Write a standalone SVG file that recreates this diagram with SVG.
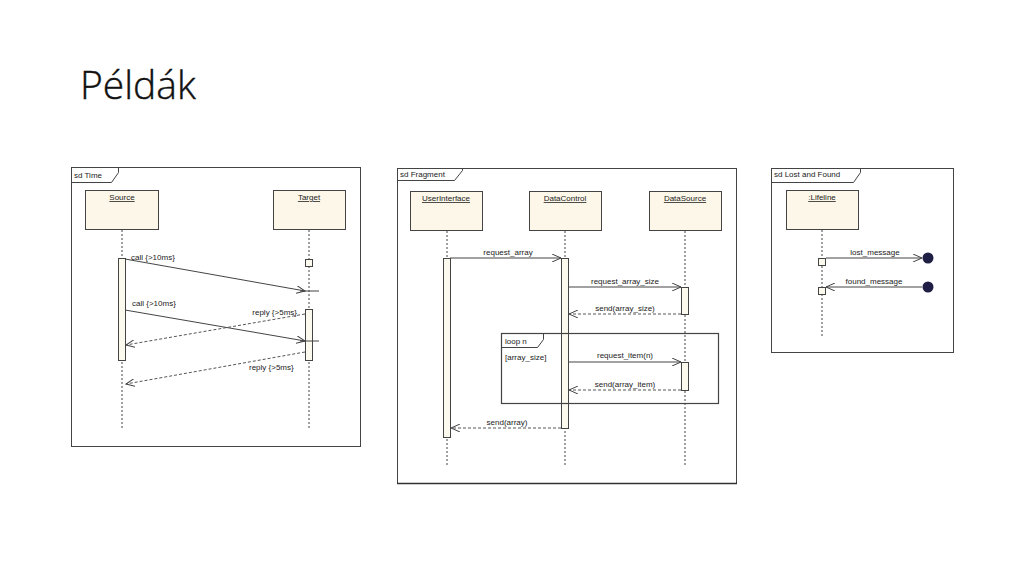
<svg xmlns="http://www.w3.org/2000/svg" width="1024" height="576" viewBox="0 0 1024 576">
<style>
.frame{fill:#fff;stroke:#444;stroke-width:1}
.tab{fill:none;stroke:#444;stroke-width:1}
.box{fill:#fcf7e9;stroke:#444;stroke-width:1}
.act{fill:#fcf9ee;stroke:#444;stroke-width:1}
.life{stroke:#444;stroke-width:1;stroke-dasharray:2,2;fill:none}
.msg{stroke:#444;stroke-width:1;fill:none}
.ret{stroke:#555;stroke-width:1;stroke-dasharray:3,2;fill:none}
.t{font-family:"Liberation Sans",Arial,sans-serif;font-size:8px;fill:#222}
.u{text-decoration:underline}
.title{font-family:"Open Sans","Noto Sans",sans-serif;font-weight:300;font-size:39px;fill:#111}
</style>
<defs>
<marker id="open" viewBox="0 0 10 8" refX="9" refY="4" markerWidth="10" markerHeight="8" markerUnits="userSpaceOnUse" orient="auto">
<path d="M0,0 L9,4 L0,8" fill="none" stroke="#444" stroke-width="1" stroke-dasharray="none"/>
</marker>
</defs>
<rect width="1024" height="576" fill="#fff"/>
<text class="title" x="80" y="99" stroke="#111" stroke-width="0.4">Példák</text>

<!-- Panel 1: sd Time -->
<g id="frame-time">
<rect class="frame" x="71.5" y="167.5" width="289" height="279"/>
<path class="tab" d="M71.5,182.5 H111.5 L118.5,172.5 V167.5"/>
<text class="t" x="74" y="178">sd Time</text>
</g>
<g id="source">
<rect class="box" x="85.5" y="190.5" width="73" height="39"/>
<text class="t u" x="122" y="200" text-anchor="middle">Source</text>
<line class="life" x1="122" y1="230" x2="122" y2="430"/>
<rect class="act" x="118.5" y="258.5" width="7" height="102"/>
</g>
<g id="target">
<rect class="box" x="273.5" y="190.5" width="72" height="39"/>
<text class="t u" x="309" y="200" text-anchor="middle">Target</text>
<line class="life" x1="309" y1="230" x2="309" y2="430"/>
<rect class="act" x="305.5" y="259.5" width="7" height="7"/>
<rect class="act" x="305.5" y="309.5" width="7" height="51"/>
</g>
<g id="connectors-time">
<line class="msg" x1="125" y1="259" x2="305" y2="291" marker-end="url(#open)"/>
<line class="msg" x1="300" y1="291" x2="319" y2="291"/>
<text class="t" x="131" y="260">call {&gt;10ms}</text>
<line class="msg" x1="125" y1="310" x2="305" y2="341" marker-end="url(#open)"/>
<line class="msg" x1="300" y1="341" x2="319" y2="341"/>
<text class="t" x="132" y="306">call {&gt;10ms}</text>
<line class="ret" x1="305" y1="314" x2="126" y2="345" marker-end="url(#open)"/>
<text class="t" x="297" y="315" text-anchor="end">reply {&gt;5ms}</text>
<line class="ret" x1="305" y1="352" x2="126" y2="384" marker-end="url(#open)"/>
<text class="t" x="249" y="370">reply {&gt;5ms}</text>
</g>

<!-- Panel 2: sd Fragment -->
<g id="frame-fragment">
<rect class="frame" x="397.5" y="168.5" width="339" height="315"/>
<line x1="397" y1="483.5" x2="737" y2="483.5" stroke="#333" stroke-width="1.5"/>
<path class="tab" d="M397.5,180.5 H454.5 L462.5,170.5 V168.5"/>
<text class="t" x="400" y="177">sd Fragment</text>
</g>
<g id="userinterface">
<rect class="box" x="410.5" y="191.5" width="72" height="39"/>
<text class="t u" x="446" y="201" text-anchor="middle">UserInterface</text>
<line class="life" x1="447" y1="231" x2="447" y2="467"/>
<rect class="act" x="443.5" y="258.5" width="7" height="179"/>
</g>
<g id="datacontrol">
<rect class="box" x="529.5" y="191.5" width="72" height="39"/>
<text class="t u" x="565" y="201" text-anchor="middle">DataControl</text>
<line class="life" x1="565" y1="231" x2="565" y2="467"/>
<rect class="act" x="561.5" y="258.5" width="7" height="170"/>
</g>
<g id="datasource">
<rect class="box" x="649.5" y="191.5" width="72" height="39"/>
<text class="t u" x="685" y="201" text-anchor="middle">DataSource</text>
<line class="life" x1="685" y1="231" x2="685" y2="467"/>
<rect class="act" x="681.5" y="287.5" width="7" height="27"/>
<rect class="act" x="681.5" y="362.5" width="7" height="28"/>
</g>
<g id="loop">
<rect x="501.5" y="333.5" width="217" height="70" fill="none" stroke="#444" stroke-width="1.2"/>
<path class="tab" d="M501.5,347.5 H537.5 L543.5,339.5 V333.5"/>
<text class="t" x="505" y="344">loop n</text>
<text class="t" x="505" y="360">[array_size]</text>
</g>
<g id="connectors-fragment">
<line class="msg" x1="450" y1="258" x2="561" y2="258" marker-end="url(#open)"/>
<text class="t" x="508" y="255" text-anchor="middle">request_array</text>
<line class="msg" x1="568" y1="287" x2="681" y2="287" marker-end="url(#open)"/>
<text class="t" x="625" y="284" text-anchor="middle">request_array_size</text>
<line class="ret" x1="681" y1="314" x2="569" y2="314" marker-end="url(#open)"/>
<text class="t" x="625" y="311" text-anchor="middle">send(array_size)</text>
<line class="msg" x1="568" y1="362" x2="681" y2="362" marker-end="url(#open)"/>
<text class="t" x="625" y="358" text-anchor="middle">request_item(n)</text>
<line class="ret" x1="681" y1="390" x2="569" y2="390" marker-end="url(#open)"/>
<text class="t" x="625" y="387" text-anchor="middle">send(array_item)</text>
<line class="ret" x1="561" y1="428" x2="451" y2="428" marker-end="url(#open)"/>
<text class="t" x="507" y="425" text-anchor="middle">send(array)</text>
</g>

<!-- Panel 3: sd Lost and Found -->
<g id="frame-lostfound">
<rect class="frame" x="771.5" y="168.5" width="182" height="184"/>
<path class="tab" d="M771.5,182.5 H853.5 L860.5,172.5 V168.5"/>
<text class="t" x="774" y="177">sd Lost and Found</text>
</g>
<g id="lifeline">
<rect class="box" x="786.5" y="190.5" width="72" height="39"/>
<text class="t u" x="822" y="200" text-anchor="middle">:Lifeline</text>
<line class="life" x1="822" y1="230" x2="822" y2="337"/>
<rect class="act" x="818.5" y="258.5" width="7" height="7"/>
<rect class="act" x="818.5" y="287.5" width="7" height="7"/>
</g>
<g id="lost-end"><circle cx="928" cy="258" r="5.5" fill="#1f1f45"/></g>
<g id="found-end"><circle cx="928" cy="287" r="5.5" fill="#1f1f45"/></g>
<g id="connectors-lostfound">
<line class="msg" x1="826" y1="258" x2="922" y2="258" marker-end="url(#open)"/>
<text class="t" x="875" y="255" text-anchor="middle">lost_message</text>
<line class="msg" x1="922" y1="287" x2="826" y2="287" marker-end="url(#open)"/>
<text class="t" x="874" y="284" text-anchor="middle">found_message</text>
</g>
</svg>
